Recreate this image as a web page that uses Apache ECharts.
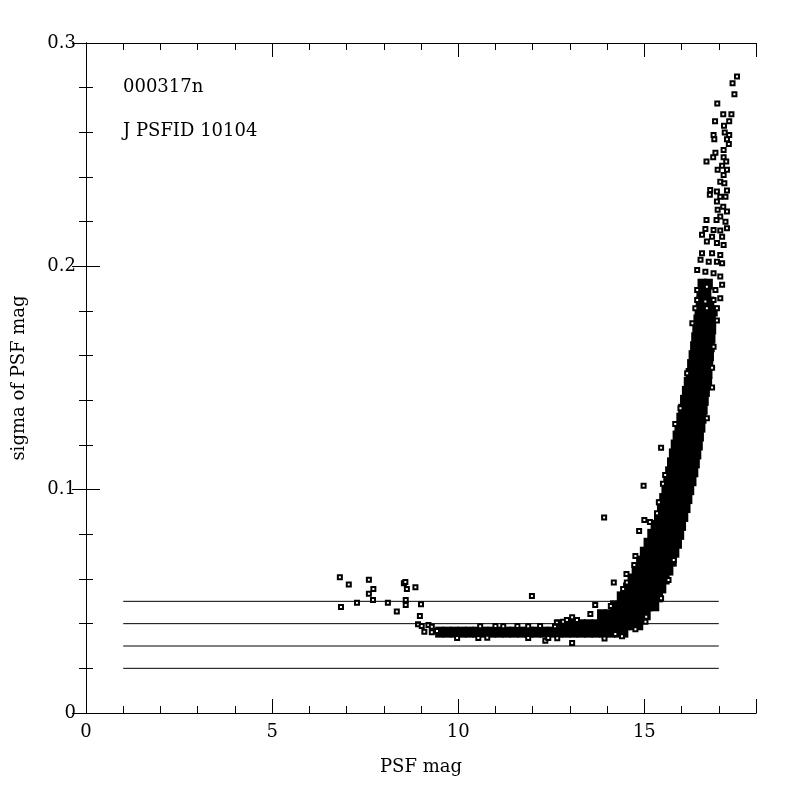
<!DOCTYPE html>
<html>
<head>
<meta charset="utf-8">
<title>sigma of PSF mag</title>
<script src="https://cdn.jsdelivr.net/npm/echarts@6/dist/echarts.min.js"></script>
<style>
  html, body { margin: 0; padding: 0; background: #fff; }
  #chart { width: 800px; height: 800px; }
</style>
</head>
<body>
<div id="chart"></div>
<script>
// labels in the upper left corner
var runLabel = '000317n';
var bandLabel = 'J PSFID 10104';

// reference levels drawn from mag 1 to mag 17
var limitLevels = [0.02, 0.03, 0.04, 0.05];
var limitRange = [1, 17];

// dense part of the cloud, one row per sigma: [sigma, mag, mag, ...]
var coreRows = [
    [0.0362, 9.5, 9.7, 9.9, 10.1, 10.3, 10.5, 10.7, 10.9, 11.1, 11.3, 11.5, 11.7, 11.9, 12.1, 12.3, 12.5, 12.7, 12.9, 13.1, 13.3, 13.5, 13.7, 13.9, 14.1, 14.3, 14.45],
    [0.0395, 12.7, 12.9, 13.1, 13.3, 13.5, 13.7, 13.9, 14.1, 14.3, 14.5, 14.7, 14.85],
    [0.044, 13.85, 14.05, 14.25, 14.45, 14.65, 14.85, 15.05],
    [0.048, 14.2, 14.38, 14.56, 14.74, 14.92, 15.1, 15.28],
    [0.052, 14.38, 14.58, 14.78, 14.98, 15.18, 15.38],
    [0.056, 14.55, 14.74, 14.93, 15.12, 15.3, 15.47],
    [0.060, 14.67, 14.85, 15.03, 15.21, 15.39, 15.56],
    [0.064, 14.78, 14.96, 15.14, 15.32, 15.5, 15.66],
    [0.068, 14.9, 15.07, 15.24, 15.41, 15.58, 15.75],
    [0.072, 15.0, 15.17, 15.34, 15.5, 15.66, 15.82],
    [0.076, 15.1, 15.26, 15.42, 15.58, 15.74, 15.89],
    [0.080, 15.2, 15.35, 15.5, 15.66, 15.81, 15.95],
    [0.084, 15.29, 15.43, 15.57, 15.72, 15.86, 16.0],
    [0.088, 15.38, 15.52, 15.66, 15.8, 15.93, 16.06],
    [0.092, 15.46, 15.6, 15.74, 15.88, 16.0, 16.12],
    [0.096, 15.52, 15.66, 15.8, 15.93, 16.05, 16.17],
    [0.100, 15.58, 15.72, 15.85, 15.98, 16.1, 16.22],
    [0.104, 15.63, 15.77, 15.9, 16.03, 16.16, 16.28],
    [0.108, 15.68, 15.82, 15.96, 16.09, 16.21, 16.33],
    [0.112, 15.73, 15.87, 16.0, 16.13, 16.25, 16.37],
    [0.116, 15.78, 15.92, 16.05, 16.17, 16.29, 16.41],
    [0.120, 15.83, 15.97, 16.1, 16.22, 16.34, 16.45],
    [0.124, 15.88, 16.02, 16.15, 16.27, 16.38, 16.48],
    [0.128, 15.93, 16.07, 16.2, 16.31, 16.42, 16.52],
    [0.132, 15.98, 16.12, 16.24, 16.35, 16.45, 16.55],
    [0.136, 16.03, 16.16, 16.28, 16.39, 16.49, 16.58],
    [0.140, 16.08, 16.2, 16.32, 16.43, 16.52, 16.61],
    [0.144, 16.13, 16.25, 16.36, 16.46, 16.55, 16.64],
    [0.148, 16.18, 16.3, 16.41, 16.5, 16.6, 16.7],
    [0.152, 16.23, 16.34, 16.44, 16.53, 16.62, 16.71],
    [0.156, 16.27, 16.38, 16.48, 16.57, 16.65, 16.73],
    [0.160, 16.31, 16.42, 16.52, 16.6, 16.68, 16.75],
    [0.164, 16.35, 16.45, 16.55, 16.63, 16.7, 16.77],
    [0.168, 16.38, 16.48, 16.58, 16.66, 16.73, 16.79],
    [0.172, 16.41, 16.51, 16.61, 16.69, 16.76, 16.81],
    [0.176, 16.44, 16.56, 16.68, 16.8],
    [0.180, 16.47, 16.6, 16.73, 16.85],
    [0.184, 16.5, 16.63, 16.76],
    [0.188, 16.52, 16.68],
    [0.192, 16.55, 16.72]
];

// single stars outside the dense part: [mag, sigma]
var loneStars = [
    [6.82, 0.0608], [7.06, 0.0575], [7.6, 0.0597], [7.72, 0.0555], [7.6, 0.0534],
    [7.71, 0.0506], [7.28, 0.0494], [6.85, 0.0475], [8.11, 0.0494], [8.35, 0.0454],
    [8.54, 0.0581], [8.58, 0.0587], [8.62, 0.0555], [8.85, 0.0563], [8.59, 0.0506],
    [8.59, 0.0484], [9.0, 0.0487], [8.97, 0.0434], [8.92, 0.0397], [9.02, 0.039],
    [9.2, 0.0394], [9.29, 0.0386], [9.09, 0.0364], [9.29, 0.0362], [9.43, 0.0367],
    [10.59, 0.0388], [11.0, 0.0389], [11.21, 0.0388], [11.59, 0.0389], [11.88, 0.0388],
    [12.2, 0.0389], [12.6, 0.0388], [12.82, 0.0409],
    [9.97, 0.0336], [10.54, 0.0336], [10.78, 0.0337], [11.88, 0.0336], [12.34, 0.0324],
    [12.42, 0.0336], [12.66, 0.0335], [13.06, 0.0313],
    [12.65, 0.0404], [12.92, 0.0416], [13.06, 0.0429], [13.19, 0.0416],
    [11.98, 0.0524], [13.92, 0.0875], [14.98, 0.1017], [14.86, 0.0815], [15.0, 0.0864],
    [15.15, 0.0855], [15.5, 0.1026], [15.41, 0.0942], [15.34, 0.0894],
    [14.18, 0.0584], [14.53, 0.0584], [14.76, 0.0703], [14.73, 0.0663], [14.52, 0.0622],
    [14.43, 0.0555], [13.68, 0.0484], [14.1, 0.0479], [13.55, 0.0443], [13.93, 0.0334],
    [14.22, 0.0354], [14.4, 0.0344], [14.76, 0.0375], [15.03, 0.0409], [15.05, 0.0431],
    [15.45, 0.0514], [15.65, 0.0596], [15.79, 0.0685],
    [15.45, 0.1188], [15.83, 0.1294], [15.56, 0.1066], [15.39, 0.0944],
    [16.29, 0.1745], [16.95, 0.1757], [16.82, 0.1546], [16.15, 0.1521], [15.97, 0.1365],
    [16.68, 0.132], [16.86, 0.164], [16.82, 0.1457],
    [17.49, 0.285], [17.37, 0.282], [17.42, 0.2771], [16.96, 0.2729], [17.12, 0.2681],
    [17.34, 0.2681], [16.9, 0.265], [17.28, 0.265], [17.14, 0.263], [17.16, 0.2599],
    [16.86, 0.2588], [17.28, 0.2588], [16.88, 0.2569], [17.22, 0.2569], [17.27, 0.2548],
    [17.13, 0.2521], [16.91, 0.2509], [16.85, 0.2488], [17.13, 0.2488], [16.67, 0.2469],
    [17.2, 0.2469], [17.09, 0.245], [17.22, 0.2432], [16.97, 0.2432], [17.13, 0.2409],
    [17.04, 0.2379], [17.15, 0.2372], [16.77, 0.2342], [16.95, 0.2335], [17.22, 0.2339],
    [16.76, 0.232], [17.04, 0.2312], [17.18, 0.2312], [16.95, 0.229], [17.12, 0.2267],
    [16.97, 0.2253], [17.22, 0.2245], [17.04, 0.2223], [16.94, 0.2208], [16.67, 0.2208],
    [17.18, 0.22], [16.64, 0.2167], [16.86, 0.2163], [17.04, 0.216], [17.22, 0.2171],
    [16.55, 0.2141], [16.82, 0.2133], [17.09, 0.2133], [16.68, 0.2111], [16.95, 0.2104],
    [17.13, 0.2096], [16.55, 0.2059], [16.82, 0.2059], [17.04, 0.2051], [16.51, 0.2029],
    [16.73, 0.2021], [16.95, 0.2021], [17.09, 0.2014], [16.42, 0.1984], [16.64, 0.1976],
    [16.86, 0.1969], [17.04, 0.1954], [16.42, 0.1894], [16.68, 0.1909], [16.91, 0.1894],
    [17.09, 0.1917], [16.42, 0.1849], [16.64, 0.1842], [16.86, 0.1849], [17.04, 0.1857],
    [16.37, 0.1812], [16.68, 0.1812], [16.95, 0.1812]
];

var serif = 'DejaVu Serif';

var coreData = [];
coreRows.forEach(function (row) {
    row.slice(1).forEach(function (mag) {
        coreData.push([mag, row[0]]);
    });
});

var chart = echarts.init(document.getElementById('chart'));

var tickAxis = function (position, step, len, labels) {
    return {
        type: 'value',
        position: position,
        min: 0,
        max: 18,
        interval: step,
        axisLine: {show: true, lineStyle: {color: '#000', width: 1}},
        axisTick: {show: true, inside: true, length: len, lineStyle: {color: '#000', width: 1}},
        axisLabel: {
            show: labels,
            margin: 10,
            color: '#000',
            fontFamily: serif,
            fontSize: 18,
            formatter: function (v) { return v % 5 === 0 ? String(v) : ''; }
        },
        splitLine: {show: false}
    };
};

var xAxes = [
    tickAxis('bottom', 1, 7, true),
    tickAxis('bottom', 5, 14, false),
    tickAxis('top', 1, 7, false),
    tickAxis('top', 5, 14, false)
];
xAxes[0].name = 'PSF mag';
xAxes[0].nameLocation = 'middle';
xAxes[0].nameGap = 45;
xAxes[0].nameTextStyle = {color: '#000', fontFamily: serif, fontSize: 18};

var sigmaAxis = function (position, labels) {
    return {
        type: 'value',
        position: position,
        min: 0,
        max: 0.3,
        interval: 0.1,
        axisLine: {show: true, lineStyle: {color: '#000', width: 1}},
        axisTick: {show: true, inside: true, length: 14, lineStyle: {color: '#000', width: 1}},
        minorTick: {show: true, splitNumber: 5, length: 7, lineStyle: {color: '#000', width: 1}},
        axisLabel: {
            show: labels,
            margin: 10,
            color: '#000',
            fontFamily: serif,
            fontSize: 18,
            formatter: function (v) { return v === 0 ? '0' : v.toFixed(1); }
        },
        splitLine: {show: false},
        minorSplitLine: {show: false}
    };
};

var yAxes = [sigmaAxis('left', true), sigmaAxis('right', false)];
yAxes[0].name = 'sigma of PSF mag';
yAxes[0].nameLocation = 'middle';
yAxes[0].nameGap = 58;
yAxes[0].nameTextStyle = {color: '#000', fontFamily: serif, fontSize: 18};

var series = limitLevels.map(function (level) {
    return {
        type: 'line',
        xAxisIndex: 0,
        yAxisIndex: 0,
        data: [[limitRange[0], level], [limitRange[1], level]],
        symbol: 'none',
        silent: true,
        lineStyle: {color: '#000', width: 1}
    };
});

series.push({
    type: 'scatter',
    xAxisIndex: 0,
    yAxisIndex: 0,
    data: coreData,
    symbol: 'rect',
    symbolSize: [9, 11],
    itemStyle: {color: '#000', opacity: 1, borderWidth: 0},
    silent: true
});

series.push({
    type: 'scatter',
    xAxisIndex: 0,
    yAxisIndex: 0,
    data: loneStars,
    symbol: 'emptyRect',
    symbolSize: 4,
    itemStyle: {color: '#000', opacity: 1, borderWidth: 1.2},
    silent: true
});

chart.setOption({
    animation: false,
    backgroundColor: '#fff',
    grid: {left: 86, right: 44, top: 43, bottom: 87},
    xAxis: xAxes,
    yAxis: yAxes,
    graphic: [
        {type: 'text', left: 123, top: 78, style: {text: runLabel, fill: '#000', font: '18px "DejaVu Serif"'}},
        {type: 'text', left: 123, top: 122, style: {text: bandLabel, fill: '#000', font: '18px "DejaVu Serif"'}}
    ],
    series: series
});
</script>
</body>
</html>
